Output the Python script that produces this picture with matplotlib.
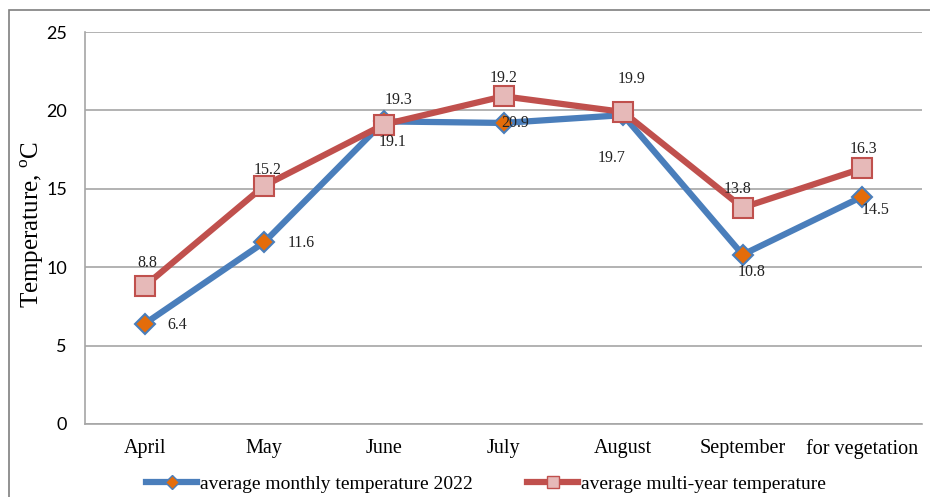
import matplotlib.pyplot as plt
from matplotlib.patches import Rectangle
from matplotlib.lines import Line2D

plt.rcParams['mathtext.fontset'] = 'custom'
plt.rcParams['mathtext.rm'] = 'Liberation Serif'

months = ['April', 'May', 'June', 'July', 'August', 'September', 'for vegetation']
temp_2022 = [6.4, 11.6, 19.3, 19.2, 19.7, 10.8, 14.5]
temp_multi = [8.8, 15.2, 19.1, 20.9, 19.9, 13.8, 16.3]
yticks = [0, 5, 10, 15, 20, 25]

# label offsets in pixels (dx, dy) for each point
off_2022 = [(32, -1), (37, -1), (15, 21), (0, 45), (-11, -43), (9, -17), (13, -13)]
off_multi = [(3, 23), (3, 16), (9, -17), (12, -27), (9, 33), (-5, 19), (1, 19)]

blue = '#4A7EBB'
red = '#C0504D'
serif = 'Liberation Serif'

fig = plt.figure(figsize=(9.3, 4.97), dpi=100)
fig.patches.append(Rectangle((9 / 930, -0.1), 1.2, 1 - 10 / 497 + 0.1, transform=fig.transFigure,
                             fill=False, edgecolor='#7f7f7f', linewidth=1.2))
ax = fig.add_axes([85 / 930, 73 / 497, 837 / 930, 392 / 497])

x = list(range(len(months)))
ax.plot(x, temp_2022, color=blue, linewidth=4.5, marker='D', markersize=10,
        markerfacecolor='#E46C0A', markeredgecolor=blue, markeredgewidth=1.5, zorder=3)
ax.plot(x, temp_multi, color=red, linewidth=4.5, marker='s', markersize=14,
        markerfacecolor='#E6B9B8', markeredgecolor=red, markeredgewidth=1.5, zorder=4)

for xi, v, (dx, dy) in zip(x, temp_2022, off_2022):
    ax.annotate(f'{v:.1f}', (xi, v), xytext=(dx, dy), textcoords='offset pixels',
                ha='center', va='center', fontsize=11.5, family=serif, color='#222222', zorder=6)
for xi, v, (dx, dy) in zip(x, temp_multi, off_multi):
    ax.annotate(f'{v:.1f}', (xi, v), xytext=(dx, dy), textcoords='offset pixels',
                ha='center', va='center', fontsize=11.5, family=serif, color='#222222', zorder=6)

ax.set_xlim(-0.5, len(months) - 0.5)
ax.set_ylim(0, 25)
ax.set_yticks(yticks)
ax.set_yticklabels([str(t) for t in yticks], family='Lato', fontsize=13)
ax.set_xticks(x)
ax.set_xticklabels(months, family=serif, fontsize=14.5)
ax.tick_params(length=0, pad=11)
ax.tick_params(axis='y', pad=13)
ax.yaxis.grid(True, color='#a6a6a6', linewidth=1.2)
ax.set_axisbelow(True)
for s in ['top', 'right']:
    ax.spines[s].set_visible(False)
for s in ['left', 'bottom']:
    ax.spines[s].set_color('#a6a6a6')
    ax.spines[s].set_linewidth(1.2)

ax.set_ylabel(r'Temperature, $^{\mathrm{o}}$C', family=serif, fontsize=18)
ax.yaxis.set_label_coords(-0.046, 0.51)

handles = [
    Line2D([], [], color=blue, linewidth=4.5, marker='D', markersize=7,
           markerfacecolor='#E46C0A', markeredgecolor=blue),
    Line2D([], [], color=red, linewidth=4.5, marker='s', markersize=9,
           markerfacecolor='#E6B9B8', markeredgecolor=red),
]
fig.legend(handles, ['average monthly temperature 2022', 'average multi-year temperature'],
           loc='center', bbox_to_anchor=(486 / 930, 1 - 484 / 497), ncol=2, frameon=False,
           prop={'family': serif, 'size': 14}, handlelength=2.6, handletextpad=0.15,
           columnspacing=2.8)

fig.savefig('out.png', dpi=100)
